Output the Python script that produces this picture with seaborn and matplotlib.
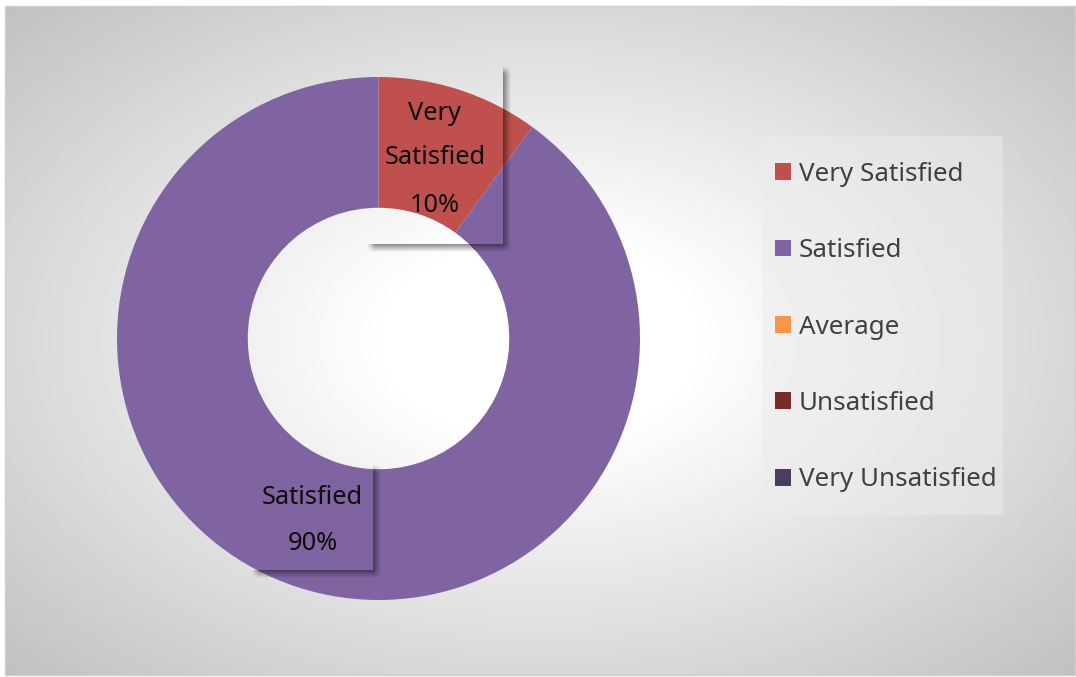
import numpy as np
import pandas as pd
import seaborn as sns
import matplotlib
matplotlib.use("Agg")
import matplotlib.pyplot as plt
from matplotlib.patches import Patch, Rectangle

# ---- data ----
categories = ["Very Satisfied", "Satisfied", "Average", "Unsatisfied", "Very Unsatisfied"]
shares = [10, 90, 0, 0, 0]
palette = ["#C0504D", "#8064A2", "#F79646", "#772C2A", "#4D3B62"]

df = pd.DataFrame({"category": categories, "share": shares})

sns.set_theme(style="white")
plt.rcParams["font.family"] = ["Noto Sans", "DejaVu Sans"]

W, H = 1076, 677
fig = plt.figure(figsize=(W / 100, H / 100), dpi=100)
fig.patch.set_facecolor("white")

# ---- background with radial gradient ----
bg = fig.add_axes([0, 0, 1, 1])
bg.set_xlim(0, W)
bg.set_ylim(H, 0)
bg.axis("off")
x0, y0, x1, y1 = 5, 6, 1075, 675
xs = np.arange(x0, x1) + 0.5
ys = np.arange(y0, y1) + 0.5
XX, YY = np.meshgrid(xs, ys)
rr = np.sqrt(((XX - 540) / 535) ** 2 + ((YY - 340) / 335) ** 2)
tt = np.clip((rr - 0.3) / (1.41 - 0.3), 0, 1)
gv = (255 - 62 * tt) / 255
bg.imshow(np.dstack([gv, gv, gv]), extent=(x0, x1, y1, y0), aspect="auto",
          interpolation="bilinear", zorder=0)
bg.add_patch(Rectangle((x0, y0), x1 - x0, y1 - y0, fill=False, ec="#cfcfcf", lw=1, zorder=1))

# ---- donut ----
R = 261.5
cxp, cyp = 378.5, 338.5
ax = fig.add_axes([(cxp - R) / W, (H - cyp - R) / H, 2 * R / W, 2 * R / H])
wedges, _ = ax.pie(df["share"], colors=palette, startangle=90, counterclock=False,
                   radius=1, wedgeprops=dict(width=0.5, linewidth=0, edgecolor="none"))
for w in wedges:
    w.set_clip_on(False)
ax.set_xlim(-1, 1)
ax.set_ylim(-1, 1)
ax.set_aspect("equal")
ax.axis("off")

# ---- overlay: label boxes with shadows, legend ----
ov = fig.add_axes([0, 0, 1, 1], zorder=5)
ov.set_xlim(0, W)
ov.set_ylim(H, 0)
ov.patch.set_alpha(0)
ov.axis("off")

FX, FY = np.meshgrid(np.arange(W) + 0.5, np.arange(H) + 0.5)


def box_shadow(b, off=4, s=4, amax=0.45):
    bx0, by0, bx1, by1 = b
    ax_ = np.clip((FX - (bx0 + off - s)) / (2 * s), 0, 1) * np.clip(((bx1 + off + s) - FX) / (2 * s), 0, 1)
    ay_ = np.clip((FY - (by0 + off - s)) / (2 * s), 0, 1) * np.clip(((by1 + off + s) - FY) / (2 * s), 0, 1)
    a = amax * ax_ * ay_
    inside = (FX >= bx0) & (FX <= bx1) & (FY >= by0) & (FY <= by1)
    a[inside] = 0
    a[(FX < bx0) | (FY < by0)] = 0
    return a


boxes = [(367, 66, 503, 244), (252, 465, 373, 570)]
alpha = np.zeros((H, W))
for b in boxes:
    alpha = np.maximum(alpha, box_shadow(b))
shadow = np.zeros((H, W, 4))
shadow[..., 3] = alpha
ov.imshow(shadow, extent=(0, W, H, 0), aspect="auto", interpolation="bilinear", zorder=1)
ov.set_xlim(0, W)
ov.set_ylim(H, 0)

label_font = dict(fontsize=18.3, color="#0d0d0d", ha="center", va="center", zorder=3)
pct = [f"{v}%" for v in shares]
ov.text(435, 113, "Very", **label_font)
ov.text(435, 158, categories[0].split(" ")[1], **label_font)
ov.text(435, 205, pct[0], **label_font)
ov.text(312.5, 497, categories[1], **label_font)
ov.text(312.5, 543, pct[1], **label_font)

# legend background
ov.add_patch(Rectangle((762, 136), 241, 379, fc="#ececec", ec="none", alpha=0.5, zorder=1))

handles = [Patch(facecolor=c, edgecolor="none", label=cat) for cat, c in zip(categories, palette)]
leg = ov.legend(handles=handles, loc="center left", bbox_to_anchor=(775 / W, 1 - 327 / H),
                bbox_transform=fig.transFigure, frameon=False, fontsize=18.7,
                labelcolor="#404040", handlelength=0.62, handleheight=0.62,
                handletextpad=0.3, labelspacing=1.98, borderpad=0, borderaxespad=0)

fig.savefig("out.png", dpi=100)
